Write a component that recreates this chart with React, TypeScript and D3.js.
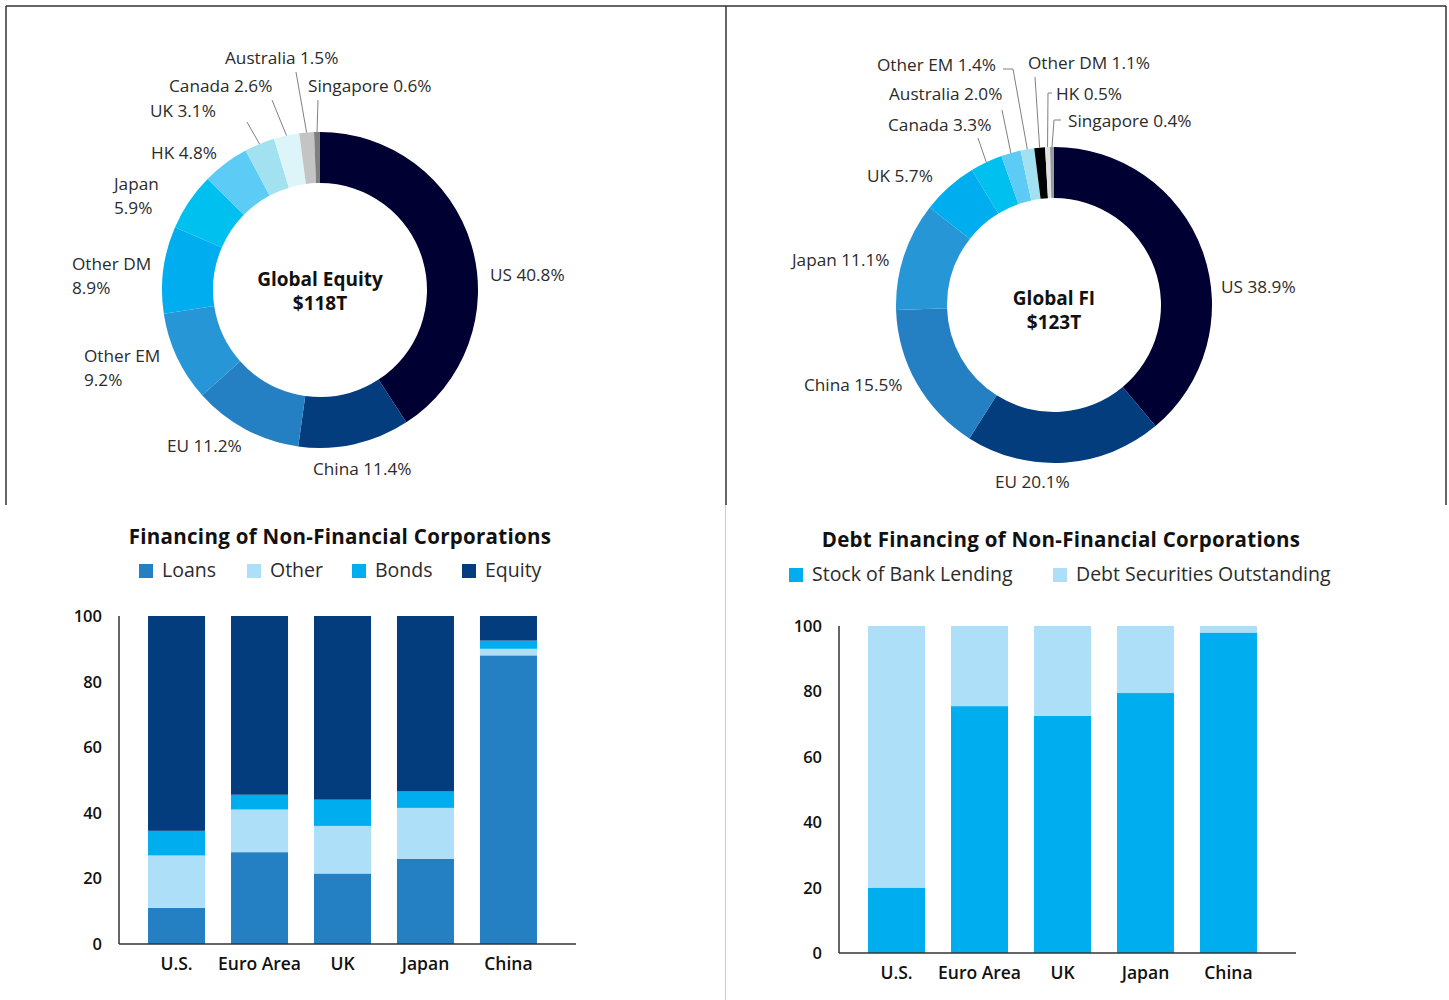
import * as d3 from "d3";

// ---- data ----
const equityNames = ["US", "China", "EU", "Other EM", "Other DM", "Japan", "HK", "UK", "Canada", "Australia", "Singapore"];
const equityValues = [40.8, 11.4, 11.2, 9.2, 8.9, 5.9, 4.8, 3.1, 2.6, 1.5, 0.6];
const equityColors = ["#000033", "#043d7e", "#2580c3", "#2696d6", "#00aeef", "#00c0f0", "#5ccbf6", "#a1e1f0", "#ddf4f9", "#c4c4c4", "#7f7f7f"];

const fiNames = ["US", "EU", "China", "Japan", "UK", "Canada", "Australia", "Other EM", "Other DM", "HK", "Singapore"];
const fiValues = [38.9, 20.1, 15.5, 11.1, 5.7, 3.3, 2.0, 1.4, 1.1, 0.5, 0.4];
const fiColors = ["#000033", "#043d7e", "#2580c3", "#2696d6", "#00aeef", "#00c0f0", "#5ccbf6", "#a1e1f0", "#000000", "#e2e2e2", "#9a9a9a"];

const regions = ["U.S.", "Euro Area", "UK", "Japan", "China"];
const finSeries = ["Loans", "Other", "Bonds", "Equity"];
const loans = [11, 28, 21.5, 26, 88];
const other = [16, 13, 14.5, 15.5, 2];
const bonds = [7.5, 4.5, 8, 5, 2.5];
const equity = [65.5, 54.5, 56, 53.5, 7.5];
const finColors = ["#2580c3", "#addff8", "#00aeef", "#043d7e"];

const debtSeries = ["Stock of Bank Lending", "Debt Securities Outstanding"];
const bankLending = [20, 75.5, 72.5, 79.5, 98];
const debtSecurities = [80, 24.5, 27.5, 20.5, 2];
const debtColors = ["#00aeef", "#addff8"];

const yTicks = [0, 20, 40, 60, 80, 100];

// ---- label layout ----
type Lbl = { x: number; y: number; lines: string[]; leader?: [number, number][] };
const equityLabels: Record<string, Lbl> = {
  US: { x: 490, y: 281, lines: ["US 40.8%"] },
  China: { x: 313, y: 475, lines: ["China 11.4%"] },
  EU: { x: 167, y: 452, lines: ["EU 11.2%"] },
  "Other EM": { x: 84, y: 362, lines: ["Other EM", "9.2%"] },
  "Other DM": { x: 72, y: 270, lines: ["Other DM", "8.9%"] },
  Japan: { x: 114, y: 190, lines: ["Japan", "5.9%"] },
  HK: { x: 151, y: 159, lines: ["HK 4.8%"] },
  UK: { x: 150, y: 117, lines: ["UK 3.1%"], leader: [[247, 122]] },
  Canada: { x: 169, y: 92, lines: ["Canada 2.6%"], leader: [[272, 100]] },
  Australia: { x: 225, y: 64, lines: ["Australia 1.5%"], leader: [[296, 72]] },
  Singapore: { x: 308, y: 92, lines: ["Singapore 0.6%"], leader: [[318, 100]] },
};
const fiLabels: Record<string, Lbl> = {
  US: { x: 1221, y: 293, lines: ["US 38.9%"] },
  EU: { x: 995, y: 488, lines: ["EU 20.1%"] },
  China: { x: 804, y: 391, lines: ["China 15.5%"] },
  Japan: { x: 792, y: 266, lines: ["Japan 11.1%"] },
  UK: { x: 867, y: 182, lines: ["UK 5.7%"] },
  Canada: { x: 888, y: 131, lines: ["Canada 3.3%"], leader: [[978, 138]] },
  Australia: { x: 889, y: 100, lines: ["Australia 2.0%"], leader: [[1002, 110]] },
  "Other EM": { x: 877, y: 71, lines: ["Other EM 1.4%"], leader: [[1013, 69], [1003, 69]] },
  "Other DM": { x: 1028, y: 69, lines: ["Other DM 1.1%"], leader: [[1035, 77]] },
  HK: { x: 1056, y: 100, lines: ["HK 0.5%"], leader: [[1048, 93], [1052, 93]] },
  Singapore: { x: 1068, y: 127, lines: ["Singapore 0.4%"], leader: [[1054, 120], [1061, 120]] },
};

const FONT = "'Open Sans', Roboto, sans-serif";
const TEXT = "#2b2b2b";

function Donut({ cx, cy, names, values, colors, labels, title, titleY }: {
  cx: number; cy: number; names: string[]; values: number[]; colors: string[];
  labels: Record<string, Lbl>; title: string[]; titleY: number;
}) {
  const rIn = 107, rOut = 158;
  const pie = d3.pie<number>().sort(null).value((d) => d);
  const arcs = pie(values);
  const arc = d3.arc<d3.PieArcDatum<number>>().innerRadius(rIn).outerRadius(rOut);
  const edge = d3.arc<d3.PieArcDatum<number>>().innerRadius(rOut).outerRadius(rOut);
  return (
    <g>
      <g transform={`translate(${cx},${cy})`}>
        {arcs.map((a, i) => (
          <path key={i} d={arc(a) || ""} fill={colors[i]} />
        ))}
      </g>
      {arcs.map((a, i) => {
        const l = labels[names[i]];
        if (!l.leader) return null;
        const [ex, ey] = edge.centroid(a);
        const pts: [number, number][] = [[cx + ex, cy + ey], ...l.leader];
        return <path key={"l" + i} d={d3.line()(pts) || ""} fill="none" stroke="#808080" strokeWidth={1} />;
      })}
      {names.map((n) => {
        const l = labels[n];
        return (
          <text key={n} x={l.x} y={l.y} fontFamily={FONT} fontSize={17.2} fill={TEXT}>
            {l.lines.map((s, j) => (
              <tspan key={j} x={l.x} dy={j === 0 ? 0 : 24}>{s}</tspan>
            ))}
          </text>
        );
      })}
      <text x={cx} y={titleY} textAnchor="middle" fontFamily={FONT} fontWeight={700} fontSize={19} fill="#111">
        <tspan x={cx} dy={0}>{title[0]}</tspan>
        <tspan x={cx} dy={24}>{title[1]}</tspan>
      </text>
    </g>
  );
}

function StackedBars({ x0, x1, yTop, yBottom, band0, band1, series, cols, colors, title, titleX, titleY, legendX, legendY, labelY }: {
  x0: number; x1: number; yTop: number; yBottom: number; band0: number; band1: number;
  series: string[]; cols: number[][]; colors: string[]; title: string; titleX: number; titleY: number;
  legendX: number[]; legendY: number; labelY: number;
}) {
  const x = d3.scaleBand<string>().domain(regions).range([band0, band1]).paddingInner(0.313).paddingOuter(0.157);
  const y = d3.scaleLinear().domain([0, 100]).range([yBottom, yTop]);
  const rows = regions.map((r, i) => {
    const o: Record<string, number | string> = { region: r };
    series.forEach((s, k) => (o[s] = cols[k][i]));
    return o;
  });
  const stack = d3.stack<Record<string, number | string>>().keys(series)(rows as any);
  return (
    <g>
      <text x={titleX} y={titleY} textAnchor="middle" fontFamily={FONT} fontWeight={700} fontSize={20.5} letterSpacing={0.3} fill="#111">{title}</text>
      {series.map((s, k) => (
        <g key={s}>
          <rect x={legendX[k]} y={legendY - 13} width={14} height={14} fill={colors[k]} />
          <text x={legendX[k] + 23} y={legendY} fontFamily={FONT} fontSize={19.5} fill={TEXT}>{s}</text>
        </g>
      ))}
      {stack.map((layer, k) => (
        <g key={k} fill={colors[k]}>
          {layer.map((d, i) => (
            <rect key={i} x={x(regions[i])} width={x.bandwidth()} y={y(d[1])} height={y(d[0]) - y(d[1])} />
          ))}
        </g>
      ))}
      <line x1={x0} x2={x0} y1={yTop} y2={yBottom} stroke="#333" strokeWidth={1.5} />
      <line x1={x0} x2={x1} y1={yBottom} y2={yBottom} stroke="#333" strokeWidth={1.5} />
      {yTicks.map((t) => (
        <text key={t} x={x0 - 17} y={y(t) + 6} textAnchor="end" fontFamily={FONT} fontWeight={600} fontSize={16.5} fill="#111">{t}</text>
      ))}
      {regions.map((r) => (
        <text key={r} x={(x(r) || 0) + x.bandwidth() / 2} y={labelY} textAnchor="middle" fontFamily={FONT} fontWeight={600} fontSize={17.5} fill="#111">{r}</text>
      ))}
    </g>
  );
}

export default function App() {
  return (
    <svg width={1449} height={1000} style={{ position: "absolute", left: 0, top: 0, background: "#fff" }}>
      <rect width={1449} height={1000} fill="#fff" />
      {/* panel frames */}
      <line x1={6} x2={1446} y1={6} y2={6} stroke="#333" strokeWidth={1.5} />
      <line x1={6} x2={6} y1={6} y2={505} stroke="#333" strokeWidth={1.5} />
      <line x1={726} x2={726} y1={6} y2={505} stroke="#333" strokeWidth={1.5} />
      <line x1={1446} x2={1446} y1={6} y2={505} stroke="#333" strokeWidth={1.5} />
      <line x1={725.5} x2={725.5} y1={505} y2={1000} stroke="#cfcfcf" strokeWidth={1.2} />

      <Donut cx={320} cy={290} names={equityNames} values={equityValues} colors={equityColors} labels={equityLabels} title={["Global Equity", "$118T"]} titleY={286} />
      <Donut cx={1054} cy={305} names={fiNames} values={fiValues} colors={fiColors} labels={fiLabels} title={["Global FI", "$123T"]} titleY={305} />

      <StackedBars x0={119} x1={576} yTop={616} yBottom={944} band0={135} band1={550}
        series={finSeries} cols={[loans, other, bonds, equity]} colors={finColors}
        title="Financing of Non-Financial Corporations" titleX={340} titleY={544}
        legendX={[139, 247, 352, 462]} legendY={577} labelY={970} />
      <StackedBars x0={839} x1={1296} yTop={626} yBottom={953} band0={855} band1={1270}
        series={debtSeries} cols={[bankLending, debtSecurities]} colors={debtColors}
        title="Debt Financing of Non-Financial Corporations" titleX={1061} titleY={547}
        legendX={[789, 1053]} legendY={581} labelY={979} />
    </svg>
  );
}
